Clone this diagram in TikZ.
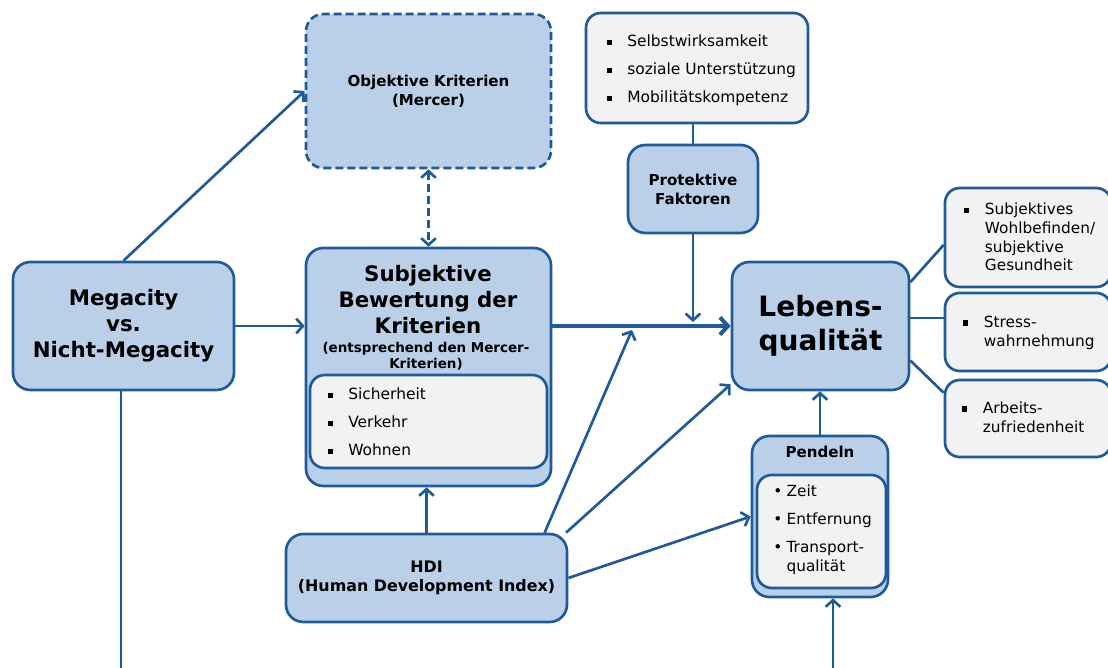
\documentclass[tikz,border=0pt]{standalone}
\usepackage{fontspec}
\setmainfont{DejaVu Sans}
\usetikzlibrary{arrows.meta}
\definecolor{bl}{RGB}{31,90,153}
\definecolor{lb}{RGB}{185,208,232}
\definecolor{gr}{RGB}{242,242,242}
\newcommand\fbig{\fontsize{16}{19.5}\selectfont\bfseries}
\newcommand\fmed{\fontsize{11.3}{14.2}\selectfont\bfseries}
\newcommand\fhdi{\fontsize{11.9}{14.2}\selectfont\bfseries}
\newcommand\fsubt{\fontsize{10.1}{12}\selectfont\bfseries}
\newcommand\flist{\fontsize{11.6}{21}\selectfont}
\newcommand\ftxt{\fontsize{11.5}{14}\selectfont}
\newcommand\fleb{\fontsize{21}{25.5}\selectfont\bfseries}
\newcommand\blsq[1]{\makebox[#1][l]{\hspace{1.5pt}\raisebox{1.4pt}{\rule{3.8pt}{3.8pt}}}}
\newcommand\bldot[1]{\makebox[#1][l]{•}}
\begin{document}
\begin{tikzpicture}[x=0.75pt,y=-0.75pt,
  sz/.style 2 args={minimum width=#1*0.75pt, minimum height=#2*0.75pt},
  box/.style={draw=bl, fill=lb, line width=2pt, rounded corners=13pt, inner sep=0pt},
  gbox/.style={draw=bl, fill=gr, line width=2pt, rounded corners=11pt, inner sep=0pt},
  txt/.style={inner sep=0pt, align=center},
  conn/.style={draw=bl, line width=2pt},
  arr/.style={conn, -{Straight Barb[length=5pt,width=11pt]}},
  dasharr/.style={conn, dash pattern=on 6pt off 3pt, {Straight Barb[length=5pt,width=11pt]}-{Straight Barb[length=5pt,width=11pt]}}
]
\useasboundingbox (0,0) rectangle (1108,668);

% boxes
\node[box, sz={221}{128}, font=\fbig, align=center] (mega) at (123.5,326) {Megacity\\vs.\\Nicht-Megacity};
\node[box, dash pattern=on 6pt off 3pt, sz={245}{154}, font=\fmed, align=center] (obj) at (428.5,91) {Objektive Kriterien\\(Mercer)};
\node[box, sz={245}{238}] (subj) at (428.5,367) {};
\node[txt, font=\fbig] (subjt) at (428,300) {Subjektive\\Bewertung der\\Kriterien};
\node[txt, font=\fsubt] (subjs) at (426,356) {(entsprechend den Mercer-\\Kriterien)};
\node[gbox, sz={237}{93}] (subjl) at (428.5,421.5) {};
\node[inner sep=0pt, anchor=west, font=\flist] (subjli) at (326,422)
  {\begin{tabular}{@{}l@{}l@{}}\blsq{16.5pt}&Sicherheit\\\blsq{16.5pt}&Verkehr\\\blsq{16.5pt}&Wohnen\end{tabular}};

\node[gbox, sz={222}{110}] (plist) at (697,68) {};
\node[inner sep=0pt, anchor=west, font=\flist] (plisti) at (605,69)
  {\begin{tabular}{@{}l@{}l@{}}\blsq{16.5pt}&Selbstwirksamkeit\\\blsq{16.5pt}&soziale Unterstützung\\\blsq{16.5pt}&Mobilitätskompetenz\end{tabular}};
\node[box, sz={130}{88}, font=\fmed, align=center] (prot) at (693,189) {Protektive\\Faktoren};

\node[box, sz={177}{128}, font=\fleb, align=center] (leb) at (820.5,326) {Lebens-\\qualität};

\node[gbox, sz={166}{99}] (r1) at (1028,237.5) {};
\node[inner sep=0pt, anchor=west, font=\ftxt] (r1t) at (962,239)
  {\begin{tabular}{@{}l@{}l@{}}\blsq{17pt}&Subjektives\\&Wohlbefinden/\\&subjektive\\&Gesundheit\end{tabular}};
\node[gbox, sz={166}{78}] (r2) at (1028,332) {};
\node[inner sep=0pt, anchor=west, font=\ftxt] (r2t) at (961,333)
  {\begin{tabular}{@{}l@{}l@{}}\blsq{17pt}&Stress-\\&wahrnehmung\end{tabular}};
\node[gbox, sz={166}{77}] (r3) at (1028,418.5) {};
\node[inner sep=0pt, anchor=west, font=\ftxt] (r3t) at (960,419)
  {\begin{tabular}{@{}l@{}l@{}}\blsq{17pt}&Arbeits-\\&zufriedenheit\end{tabular}};

\node[box, sz={136}{161}] (pend) at (820,516.5) {};
\node[txt, font=\fmed] (pendt) at (820,452) {Pendeln};
\node[gbox, sz={129}{113}] (pendl) at (821.5,531.5) {};
\node[inner sep=0pt, anchor=west, font=\ftxt] (pendli) at (773,530.5)
  {\begin{tabular}{@{}l@{}l@{}}\bldot{10pt}&Zeit\\[7pt]\bldot{10pt}&Entfernung\\[7pt]\bldot{10pt}&Transport-\\&qualität\end{tabular}};

\node[box, sz={281}{88}, font=\fhdi, align=center] (hdi) at (426.5,578) {HDI\\(Human Development Index)};

% free ends
\coordinate (megaend) at (121,675);
\coordinate (protend) at (692,322);
\coordinate (hdiend) at (632,330);
\coordinate (pin) at (833,675);

% connectors
\draw[arr] (mega.north) -- (obj.west);
\draw[arr] (mega.east) -- (mega.east -| subj.west);
\draw[conn] (megaend |- mega.south) -- (megaend);
\draw[dasharr] (obj.south) -- (subj.north);
\draw[conn, line width=3pt, -{Straight Barb[length=6pt,width=13pt]}] (leb.west -| subj.east) -- (leb.west);
\draw[conn] (prot.north) -- (prot.north |- plist.south);
\draw[arr] (prot.south) -- (prot.south |- protend);
\draw[arr] (hdi.north) -- (hdi.north |- subj.south);
\draw[arr] (hdi.21) -- (hdiend);
\draw[arr] (hdi.18) -- (leb.213);
\draw[arr] (hdi.east) -- (pend.west);
\draw[arr] (pend.north) -- (pend.north |- leb.south);
\draw[arr] (pin) -- (pin |- pend.south);
\draw[conn] (leb.26) -- (r1.185);
\draw[conn] (leb.5) -- (leb.5 -| r2.west);
\draw[conn] (leb.339) -- (r3.163);
\end{tikzpicture}
\end{document}
